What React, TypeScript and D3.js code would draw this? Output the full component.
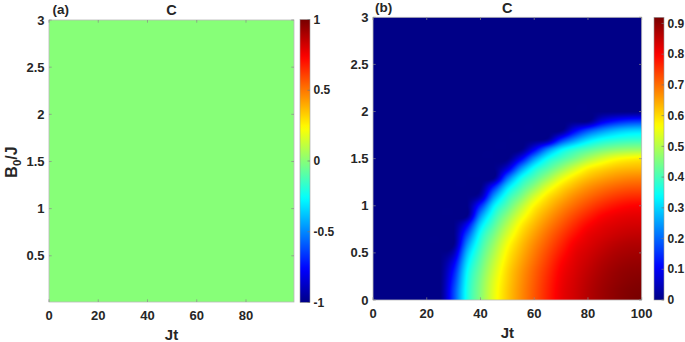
import React, { useMemo } from 'react';
import * as d3 from 'd3';

// ---------- data ----------
// Panel (b): concurrence C on a grid of Jt (columns) x B0/J (rows)
const jtGrid = [0, 5, 10, 15, 20, 25, 30, 35, 40, 45, 50, 55, 60, 65, 70, 75, 80, 85, 90, 95, 100];
const b0Grid = [0, 0.1, 0.2, 0.3, 0.4, 0.5, 0.6, 0.7, 0.8, 0.9, 1.0, 1.1, 1.2, 1.3, 1.4, 1.5, 1.6, 1.7, 1.8, 1.9, 2.0,
  2.1, 2.2, 2.3, 2.4, 2.5, 2.6, 2.7, 2.8, 2.9, 3.0];
const concurrenceB = [
  [0, 0, 0, 0, 0, 0, 0.17, 0.36, 0.46, 0.548, 0.615, 0.67, 0.72, 0.77, 0.815, 0.84, 0.865, 0.885, 0.9, 0.912, 0.92],
  [0, 0, 0, 0, 0, 0, 0.167, 0.358, 0.458, 0.546, 0.614, 0.669, 0.719, 0.768, 0.814, 0.839, 0.864, 0.884, 0.899, 0.91, 0.915],
  [0, 0, 0, 0, 0, 0, 0.15, 0.35, 0.452, 0.54, 0.609, 0.665, 0.715, 0.764, 0.81, 0.836, 0.86, 0.88, 0.894, 0.904, 0.909],
  [0, 0, 0, 0, 0, 0, 0.127, 0.337, 0.44, 0.528, 0.603, 0.659, 0.709, 0.757, 0.804, 0.831, 0.854, 0.874, 0.889, 0.898, 0.901],
  [0, 0, 0, 0, 0, 0, 0.092, 0.312, 0.424, 0.513, 0.591, 0.648, 0.698, 0.746, 0.794, 0.825, 0.846, 0.866, 0.88, 0.889, 0.892],
  [0, 0, 0, 0, 0, 0, 0.042, 0.277, 0.404, 0.494, 0.577, 0.635, 0.686, 0.733, 0.779, 0.817, 0.837, 0.855, 0.87, 0.878, 0.881],
  [0, 0, 0, 0, 0, 0, 0, 0.229, 0.38, 0.472, 0.558, 0.62, 0.671, 0.717, 0.762, 0.804, 0.826, 0.843, 0.857, 0.866, 0.868],
  [0, 0, 0, 0, 0, 0, 0, 0.171, 0.351, 0.444, 0.53, 0.6, 0.652, 0.699, 0.742, 0.783, 0.815, 0.83, 0.842, 0.85, 0.853],
  [0, 0, 0, 0, 0, 0, 0, 0.099, 0.303, 0.411, 0.498, 0.576, 0.63, 0.677, 0.719, 0.759, 0.795, 0.817, 0.828, 0.835, 0.837],
  [0, 0, 0, 0, 0, 0, 0, 0, 0.233, 0.374, 0.46, 0.54, 0.604, 0.652, 0.694, 0.732, 0.766, 0.795, 0.811, 0.819, 0.821],
  [0, 0, 0, 0, 0, 0, 0, 0, 0.145, 0.325, 0.416, 0.498, 0.574, 0.623, 0.666, 0.702, 0.734, 0.762, 0.782, 0.795, 0.799],
  [0, 0, 0, 0, 0, 0, 0, 0, 0.035, 0.242, 0.371, 0.446, 0.527, 0.59, 0.633, 0.671, 0.701, 0.726, 0.745, 0.757, 0.76],
  [0, 0, 0, 0, 0, 0, 0, 0, 0, 0.136, 0.305, 0.396, 0.466, 0.539, 0.595, 0.634, 0.666, 0.689, 0.706, 0.717, 0.72],
  [0, 0, 0, 0, 0, 0, 0, 0, 0, 0, 0.197, 0.338, 0.409, 0.473, 0.54, 0.589, 0.624, 0.647, 0.664, 0.675, 0.679],
  [0, 0, 0, 0, 0, 0, 0, 0, 0, 0, 0.07, 0.233, 0.349, 0.41, 0.467, 0.524, 0.574, 0.6, 0.619, 0.629, 0.632],
  [0, 0, 0, 0, 0, 0, 0, 0, 0, 0, 0, 0.098, 0.242, 0.345, 0.398, 0.443, 0.491, 0.53, 0.56, 0.575, 0.583],
  [0, 0, 0, 0, 0, 0, 0, 0, 0, 0, 0, 0, 0.098, 0.225, 0.322, 0.375, 0.41, 0.439, 0.459, 0.47, 0.474],
  [0, 0, 0, 0, 0, 0, 0, 0, 0, 0, 0, 0, 0, 0.019, 0.147, 0.238, 0.307, 0.348, 0.369, 0.381, 0.385],
  [0, 0, 0, 0, 0, 0, 0, 0, 0, 0, 0, 0, 0, 0, 0, 0.097, 0.175, 0.232, 0.272, 0.294, 0.301],
  [0, 0, 0, 0, 0, 0, 0, 0, 0, 0, 0, 0, 0, 0, 0, 0, 0, 0.076, 0.12, 0.146, 0.155],
  [0, 0, 0, 0, 0, 0, 0, 0, 0, 0, 0, 0, 0, 0, 0, 0, 0, 0, 0, 0, 0],
  [0, 0, 0, 0, 0, 0, 0, 0, 0, 0, 0, 0, 0, 0, 0, 0, 0, 0, 0, 0, 0],
  [0, 0, 0, 0, 0, 0, 0, 0, 0, 0, 0, 0, 0, 0, 0, 0, 0, 0, 0, 0, 0],
  [0, 0, 0, 0, 0, 0, 0, 0, 0, 0, 0, 0, 0, 0, 0, 0, 0, 0, 0, 0, 0],
  [0, 0, 0, 0, 0, 0, 0, 0, 0, 0, 0, 0, 0, 0, 0, 0, 0, 0, 0, 0, 0],
  [0, 0, 0, 0, 0, 0, 0, 0, 0, 0, 0, 0, 0, 0, 0, 0, 0, 0, 0, 0, 0],
  [0, 0, 0, 0, 0, 0, 0, 0, 0, 0, 0, 0, 0, 0, 0, 0, 0, 0, 0, 0, 0],
  [0, 0, 0, 0, 0, 0, 0, 0, 0, 0, 0, 0, 0, 0, 0, 0, 0, 0, 0, 0, 0],
  [0, 0, 0, 0, 0, 0, 0, 0, 0, 0, 0, 0, 0, 0, 0, 0, 0, 0, 0, 0, 0],
  [0, 0, 0, 0, 0, 0, 0, 0, 0, 0, 0, 0, 0, 0, 0, 0, 0, 0, 0, 0, 0],
  [0, 0, 0, 0, 0, 0, 0, 0, 0, 0, 0, 0, 0, 0, 0, 0, 0, 0, 0, 0, 0],
];

// Panel (a): C is identically zero over the whole plane
const jtGridA = [0, 99.5];
const b0GridA = [0.01, 3];
const concurrenceA = [
  [0, 0],
  [0, 0],
];

const xTicksA = [0, 20, 40, 60, 80];
const yTicksA = [0.5, 1, 1.5, 2, 2.5, 3];
const xTicksB = [0, 20, 40, 60, 80, 100];
const yTicksB = [0, 0.5, 1, 1.5, 2, 2.5, 3];
const cbTicksA = [-1, -0.5, 0, 0.5, 1];
const cbTicksB = [0, 0.1, 0.2, 0.3, 0.4, 0.5, 0.6, 0.7, 0.8, 0.9];
const cbDomainA = [-1, 1];
const cbDomainB = [0, 0.92];
const panelLabels = ['(a)', '(b)'];
const titleText = 'C';
const xLabelText = 'Jt';

// ---------- helpers ----------
const clamp01 = (v: number) => Math.max(0, Math.min(1, v));
// MATLAB jet(64)-like colormap, continuous
function jet(v: number) {
  const p = clamp01(v) * 64 + 0.5;
  const b = clamp01(Math.min((p + 8) / 16, (40 - p) / 16));
  const g = clamp01(Math.min((p - 8) / 16, (56 - p) / 16));
  const r = clamp01(Math.min((p - 24) / 16, (72 - p) / 16));
  return d3.rgb(Math.round(r * 255), Math.round(g * 255), Math.round(b * 255)).formatHex();
}

// Catmull-Rom (bicubic) smoothing used only for display of the grid
function cr(p0: number, p1: number, p2: number, p3: number, t: number) {
  return 0.5 * ((2 * p1) + (-p0 + p2) * t + (2 * p0 - 5 * p1 + 4 * p2 - p3) * t * t + (-p0 + 3 * p1 - 3 * p2 + p3) * t * t * t);
}

function sampleGrid(grid: number[][], xs: number[], ys: number[], x: number, y: number) {
  const nx = xs.length, ny = ys.length;
  const i = Math.min(Math.max(d3.bisectRight(xs, x) - 1, 0), nx - 2);
  const j = Math.min(Math.max(d3.bisectRight(ys, y) - 1, 0), ny - 2);
  const fx = clamp01((x - xs[i]) / (xs[i + 1] - xs[i]));
  const fy = clamp01((y - ys[j]) / (ys[j + 1] - ys[j]));
  const ci = (k: number) => Math.min(Math.max(k, 0), nx - 1);
  const cj = (k: number) => Math.min(Math.max(k, 0), ny - 1);
  const rows: number[] = [];
  for (let dj = -1; dj <= 2; dj++) {
    const r = grid[cj(j + dj)];
    rows.push(cr(r[ci(i - 1)], r[ci(i)], r[ci(i + 1)], r[ci(i + 2)], fx));
  }
  return Math.max(0, cr(rows[0], rows[1], rows[2], rows[3], fy));
}

const FONT = '"Liberation Sans", Arial, Helvetica, sans-serif';
const TXT = '#262626';

// ---------- layout ----------
const A = { left: 49, right: 294, top: 20, bottom: 302 };
const CBA = { left: 300, right: 310, top: 19.5, bottom: 302.5 };
const B = { left: 373, right: 641.7, top: 17.3, bottom: 300 };
const CBB = { left: 654, right: 664, top: 17.3, bottom: 300 };

function fmt(v: number) {
  return String(v);
}

function Colorbar({ box, domain, ticks, id }: any) {
  const y = d3.scaleLinear().domain(domain).range([box.bottom, box.top]);
  const stops = d3.range(0, 65).map((k) => k / 64);
  return (
    <g>
      <defs>
        <linearGradient id={id} x1="0" y1="1" x2="0" y2="0">
          {stops.map((s) => (
            <stop key={s} offset={s} stopColor={jet(s)} />
          ))}
        </linearGradient>
      </defs>
      <rect x={box.left} y={box.top} width={box.right - box.left} height={box.bottom - box.top} fill={`url(#${id})`} stroke="#9a9a9a" strokeWidth={0.6} />
      {ticks.map((t: number) => (
        <g key={t}>
          <line x1={box.right - 2.5} x2={box.right} y1={y(t)} y2={y(t)} stroke="#777" strokeWidth={0.7} />
          <text x={box.right + 3.5} y={y(t) + 4.2} fontSize={12} fontWeight="bold" fontFamily={FONT} fill={TXT}>
            {fmt(t)}
          </text>
        </g>
      ))}
    </g>
  );
}

function Axes({ box, x, y, xTicks, yTicks }: any) {
  return (
    <g>
      <rect x={box.left} y={box.top} width={box.right - box.left} height={box.bottom - box.top} fill="none" stroke="#b8b8b8" strokeWidth={0.8} />
      {xTicks.map((t: number) => (
        <g key={'x' + t}>
          <line x1={x(t)} x2={x(t)} y1={box.bottom} y2={box.bottom - 2.7} stroke="#8a8a8a" strokeWidth={0.7} />
          <line x1={x(t)} x2={x(t)} y1={box.top} y2={box.top + 2.7} stroke="#8a8a8a" strokeWidth={0.7} />
          <text x={x(t)} y={box.bottom + 18} textAnchor="middle" fontSize={13} fontWeight="bold" fontFamily={FONT} fill={TXT}>
            {fmt(t)}
          </text>
        </g>
      ))}
      {yTicks.map((t: number) => (
        <g key={'y' + t}>
          <line x1={box.left} x2={box.left + 2.7} y1={y(t)} y2={y(t)} stroke="#8a8a8a" strokeWidth={0.7} />
          <line x1={box.right} x2={box.right - 2.7} y1={y(t)} y2={y(t)} stroke="#8a8a8a" strokeWidth={0.7} />
          <text x={box.left - 4.5} y={y(t) + 4.6} textAnchor="end" fontSize={13} fontWeight="bold" fontFamily={FONT} fill={TXT}>
            {fmt(t)}
          </text>
        </g>
      ))}
    </g>
  );
}

export default function App() {
  const xA = d3.scaleLinear().domain([jtGridA[0], jtGridA[1]]).range([A.left, A.right]);
  const yA = d3.scaleLinear().domain([b0GridA[0], b0GridA[1]]).range([A.bottom, A.top]);
  const xB = d3.scaleLinear().domain([0, 100]).range([B.left, B.right]);
  const yB = d3.scaleLinear().domain([0, 3]).range([B.bottom, B.top]);
  const colorA = (v: number) => jet((v - cbDomainA[0]) / (cbDomainA[1] - cbDomainA[0]));
  const colorB = (v: number) => jet((v - cbDomainB[0]) / (cbDomainB[1] - cbDomainB[0]));

  const heatUrl = useMemo(() => {
    const w = Math.round(B.right - B.left);
    const h = Math.round(B.bottom - B.top);
    const canvas = document.createElement('canvas');
    canvas.width = w;
    canvas.height = h;
    const ctx = canvas.getContext('2d');
    if (!ctx) return '';
    const img = ctx.createImageData(w, h);
    const sx = (B.right - B.left) / w;
    const sy = (B.bottom - B.top) / h;
    for (let py = 0; py < h; py++) {
      const b0 = yB.invert(B.top + (py + 0.5) * sy);
      for (let px = 0; px < w; px++) {
        const jt = xB.invert(B.left + (px + 0.5) * sx);
        const v = sampleGrid(concurrenceB, jtGrid, b0Grid, jt, b0);
        const c = d3.rgb(colorB(v));
        const k = (py * w + px) * 4;
        img.data[k] = c.r;
        img.data[k + 1] = c.g;
        img.data[k + 2] = c.b;
        img.data[k + 3] = 255;
      }
    }
    ctx.putImageData(img, 0, 0);
    return canvas.toDataURL();
  }, []);

  // panel (a) cells
  const cellsA: any[] = [];
  for (let j = 0; j < b0GridA.length - 1; j++) {
    for (let i = 0; i < jtGridA.length - 1; i++) {
      cellsA.push({ x0: jtGridA[i], x1: jtGridA[i + 1], y0: b0GridA[j], y1: b0GridA[j + 1], v: concurrenceA[j][i] });
    }
  }

  return (
    <svg width={685} height={342} style={{ position: 'absolute', left: 0, top: 0, background: '#fff' }}>
      {/* Panel (a) */}
      {cellsA.map((c, k) => (
        <rect key={k} x={xA(c.x0)} y={yA(c.y1)} width={xA(c.x1) - xA(c.x0)} height={yA(c.y0) - yA(c.y1)} fill={colorA(c.v)} />
      ))}
      <Axes box={A} x={xA} y={yA} xTicks={xTicksA} yTicks={yTicksA} />
      <Colorbar box={CBA} domain={cbDomainA} ticks={cbTicksA} id="cbA" />
      <text x={52.5} y={14} fontSize={13.5} fontWeight="bold" fontFamily={FONT} fill={TXT}>{panelLabels[0]}</text>
      <text x={(A.left + A.right) / 2} y={15} textAnchor="middle" fontSize={14.5} fontWeight="bold" fontFamily={FONT} fill={TXT}>{titleText}</text>
      <text x={(A.left + A.right) / 2} y={340} textAnchor="middle" fontSize={15} fontWeight="bold" fontFamily={FONT} fill={TXT}>{xLabelText}</text>
      <text transform="translate(17,162) rotate(-90)" textAnchor="middle" fontSize={16} fontWeight="bold" fontFamily={FONT} fill={TXT}>
        B<tspan fontSize={11.5} dy={3.5}>0</tspan><tspan dy={-3.5}>/J</tspan>
      </text>

      {/* Panel (b) */}
      {heatUrl && (
        <image href={heatUrl} x={B.left} y={B.top} width={B.right - B.left} height={B.bottom - B.top} preserveAspectRatio="none" />
      )}
      <Axes box={B} x={xB} y={yB} xTicks={xTicksB} yTicks={yTicksB} />
      <Colorbar box={CBB} domain={cbDomainB} ticks={cbTicksB} id="cbB" />
      <text x={375} y={12} fontSize={13.5} fontWeight="bold" fontFamily={FONT} fill={TXT}>{panelLabels[1]}</text>
      <text x={(B.left + B.right) / 2} y={13} textAnchor="middle" fontSize={14.5} fontWeight="bold" fontFamily={FONT} fill={TXT}>{titleText}</text>
      <text x={(B.left + B.right) / 2} y={338} textAnchor="middle" fontSize={15} fontWeight="bold" fontFamily={FONT} fill={TXT}>{xLabelText}</text>
    </svg>
  );
}
